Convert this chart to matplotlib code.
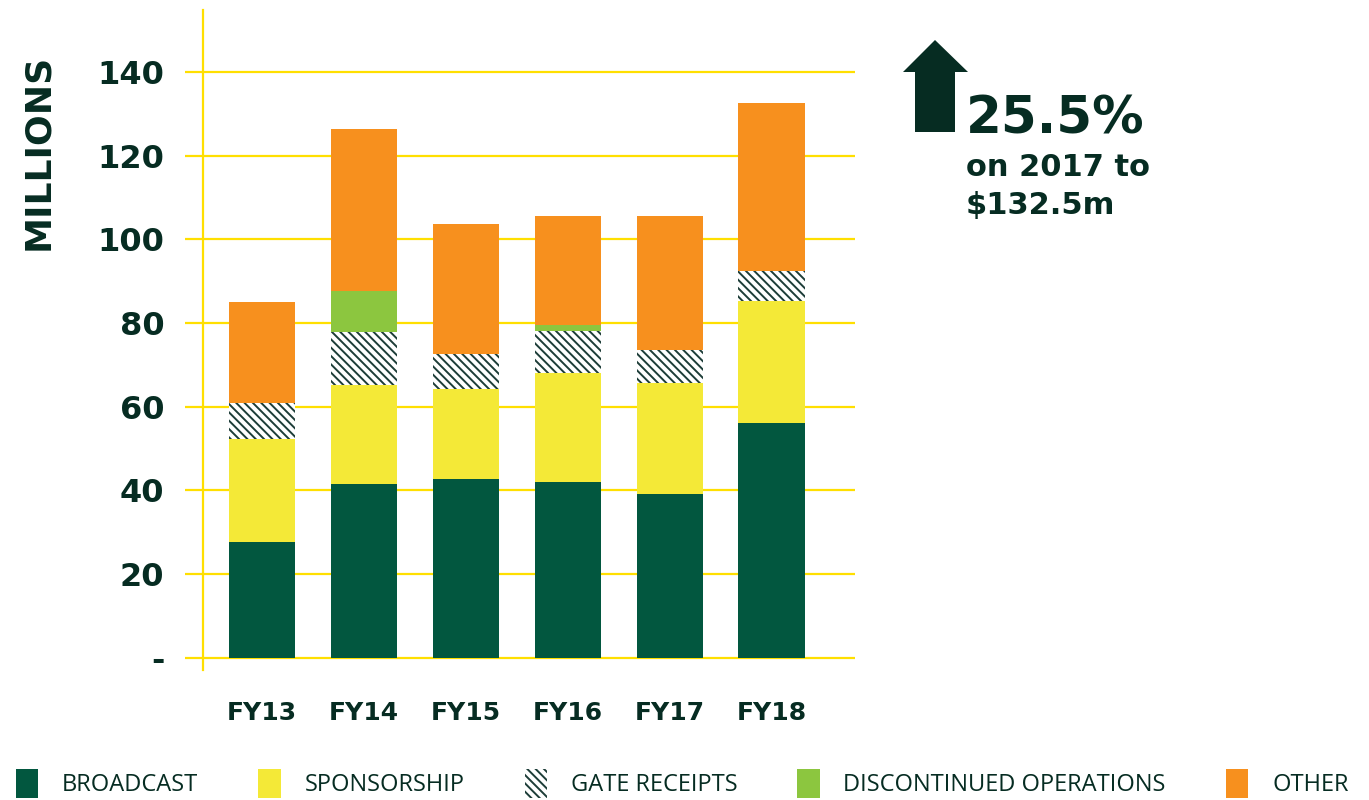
import matplotlib.pyplot as plt
from matplotlib.patches import Patch, Polygon
import numpy as np

# revenue by source, $ millions
years = ["FY13", "FY14", "FY15", "FY16", "FY17", "FY18"]
broadcast = [27.7, 41.6, 42.8, 42.0, 39.2, 56.1]
sponsorship = [24.6, 23.6, 21.5, 26.1, 26.5, 29.2]
gate_receipts = [8.6, 12.7, 8.3, 10.0, 7.9, 7.2]
discontinued = [0.0, 9.8, 0.0, 1.5, 0.0, 0.0]
other = [24.1, 38.7, 31.1, 26.0, 32.0, 40.0]

series_names = ["BROADCAST", "SPONSORSHIP", "GATE RECEIPTS",
                "DISCONTINUED OPERATIONS", "OTHER"]

DARK = "#062c22"
YELLOW_LINE = "#ffdf00"
HATCH = "\\\\\\\\"
colors = {
    "BROADCAST": "#02573f",
    "SPONSORSHIP": "#f4e937",
    "GATE RECEIPTS": "white",
    "DISCONTINUED OPERATIONS": "#8cc63f",
    "OTHER": "#f7901e",
}

plt.rcParams["hatch.linewidth"] = 1.4
plt.rcParams["font.family"] = ["DejaVu Sans"]

fig = plt.figure(figsize=(13.69, 8), dpi=100)
ax = fig.add_axes([0.1483, 0.1625, 0.4763, 0.825])

x = np.arange(len(years))
w = 0.65
bottom = np.zeros(len(years))
data = [broadcast, sponsorship, gate_receipts, discontinued, other]
for name, vals in zip(series_names, data):
    vals = np.array(vals)
    if name == "GATE RECEIPTS":
        ax.bar(x, vals, w, bottom=bottom, color="white", edgecolor="#1d3d38",
               linewidth=0, hatch=HATCH, zorder=3)
    else:
        ax.bar(x, vals, w, bottom=bottom, color=colors[name], linewidth=0, zorder=3)
    bottom += vals

ax.set_xlim(-0.58, 5.82)
ax.set_ylim(-2.9, 154.8)
ax.set_yticks(range(0, 141, 20))
ax.set_yticklabels(["-"] + [str(v) for v in range(20, 141, 20)])
ax.set_xticks(x)
ax.set_xticklabels(years)

ax.grid(axis="y", color=YELLOW_LINE, linewidth=1.6, zorder=0)
ax.grid(axis="x", visible=False)
for s in ["top", "right", "bottom"]:
    ax.spines[s].set_visible(False)
ax.spines["left"].set_color(YELLOW_LINE)
ax.spines["left"].set_linewidth(1.6)

ax.tick_params(axis="y", length=13, width=1.6, color=YELLOW_LINE, pad=15,
               labelsize=23, labelcolor=DARK)
ax.tick_params(axis="x", length=0, pad=22, labelsize=18, labelcolor=DARK)
for lab in ax.get_yticklabels() + ax.get_xticklabels():
    lab.set_fontweight("bold")

fig.text(38 / 1369, 1 - 152 / 800, "MILLIONS", rotation=90, ha="center", va="center",
         fontsize=26, fontweight="bold", color=DARK)

# up arrow annotation
px = [(903, 72), (935, 40), (968, 72), (955, 72), (955, 132), (915, 132), (915, 72)]
fig.patches.append(Polygon([(a / 1369, 1 - b / 800) for a, b in px], closed=True,
                           transform=fig.transFigure, facecolor="#062c22",
                           edgecolor="none"))
fig.text(966 / 1369, 1 - 133 / 800, "25.5%", fontsize=37, fontweight="bold",
         color=DARK, va="baseline", ha="left")
fig.text(966 / 1369, 1 - 176 / 800, "on 2017 to", fontsize=22, fontweight="bold",
         color=DARK, va="baseline", ha="left")
fig.text(966 / 1369, 1 - 214 / 800, "$132.5m", fontsize=22, fontweight="bold",
         color=DARK, va="baseline", ha="left")

handles = []
for name in series_names:
    if name == "GATE RECEIPTS":
        handles.append(Patch(facecolor="white", edgecolor="#1d3d38", linewidth=0,
                             hatch=HATCH, label=name))
    else:
        handles.append(Patch(facecolor=colors[name], linewidth=0, label=name))
leg = fig.legend(handles=handles, loc="lower left", bbox_to_anchor=(-0.004, -0.024),
                 ncol=5, frameon=False, handlelength=0.95, handleheight=1.5,
                 handletextpad=1.0, columnspacing=2.55,
                 prop={"family": "Open Sans", "size": 17})
for t in leg.get_texts():
    t.set_color(DARK)

fig.savefig("out.png", dpi=100)
